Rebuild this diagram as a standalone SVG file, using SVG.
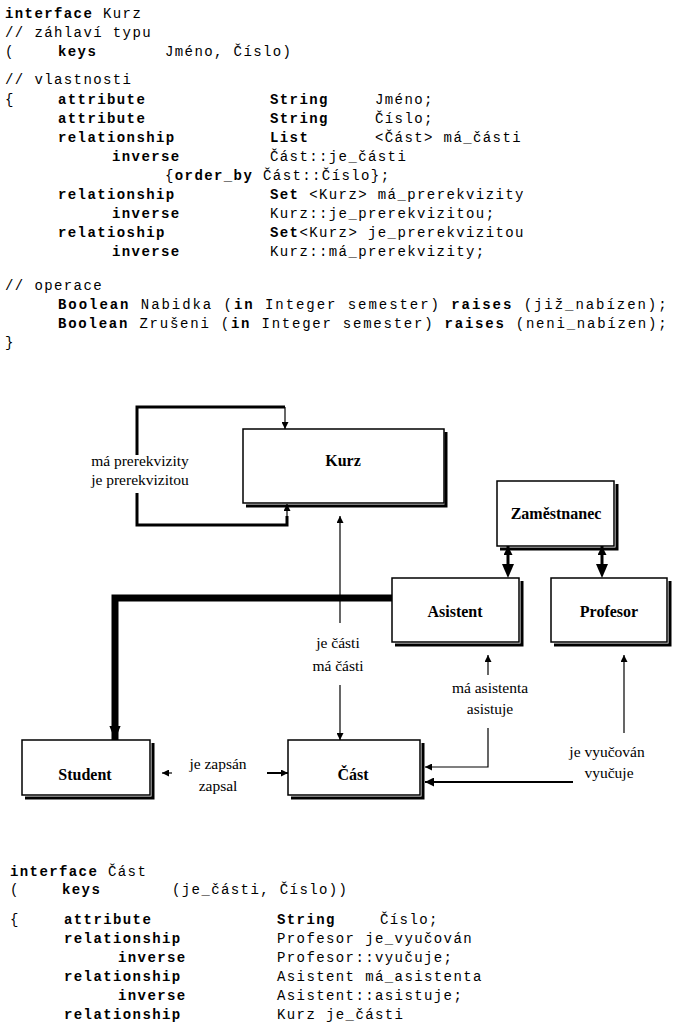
<svg xmlns="http://www.w3.org/2000/svg" width="673" height="1029" viewBox="0 0 673 1029">
<style>
.c{font-family:"Liberation Mono",monospace;font-size:14px;letter-spacing:1.4px;fill:#000}
.b{font-weight:bold}
.n{font-family:"Liberation Serif",serif;font-size:16px;font-weight:bold;text-anchor:middle}
.l{font-family:"Liberation Serif",serif;font-size:15.5px;text-anchor:middle}
.box{fill:#fff;stroke:#000;stroke-width:1.5}
.sh{fill:none;stroke:#000;stroke-width:3}
.ln{fill:none;stroke:#000;stroke-width:1.2}
</style>
<defs>
<marker id="a" viewBox="0 0 10 10" refX="10" refY="5" markerWidth="7" markerHeight="7" orient="auto" markerUnits="userSpaceOnUse"><path d="M0,0L10,5L0,10z"/></marker>
<marker id="at" viewBox="0 0 10 10" refX="10" refY="5" markerWidth="9" markerHeight="9" orient="auto" markerUnits="userSpaceOnUse"><path d="M0,0L10,5L0,10z"/></marker>
<marker id="ab" viewBox="0 0 10 10" refX="10" refY="5" markerWidth="14" markerHeight="14" orient="auto" markerUnits="userSpaceOnUse"><path d="M0,1L10,5L0,9z"/></marker>
</defs>
<g id="code1">
<text class="c" x="5" y="18"><tspan class="b">interface</tspan>  Kurz</text>
<text class="c" x="5" y="37">// záhlaví typu</text>
<text class="c" x="5" y="56">(</text><text class="c b" x="58" y="56">keys</text><text class="c" x="165" y="56">Jméno, Číslo)</text>
<text class="c" x="5" y="84">// vlastnosti</text>
<text class="c" x="5" y="104">{</text><text class="c b" x="58" y="104">attribute</text><text class="c b" x="270" y="104">String</text><text class="c" x="375" y="104">Jméno;</text>
<text class="c b" x="58" y="123">attribute</text><text class="c b" x="270" y="123">String</text><text class="c" x="375" y="123">Číslo;</text>
<text class="c b" x="58" y="142">relationship</text><text class="c b" x="270" y="142">List</text><text class="c" x="375" y="142">&lt;Část&gt;  má_části</text>
<text class="c b" x="112" y="161">inverse</text><text class="c" x="270" y="161">Část::je_části</text>
<text class="c" x="165" y="180">{<tspan class="b">order_by</tspan> Část::Číslo};</text>
<text class="c b" x="58" y="199">relationship</text><text class="c" x="270" y="199"><tspan class="b">Set</tspan> &lt;Kurz&gt; má_prerekvizity</text>
<text class="c b" x="112" y="218">inverse</text><text class="c" x="270" y="218">Kurz::je_prerekvizitou;</text>
<text class="c b" x="58" y="237">relatioship</text><text class="c" x="270" y="237"><tspan class="b">Set</tspan>&lt;Kurz&gt; je_prerekvizitou</text>
<text class="c b" x="112" y="256">inverse</text><text class="c" x="270" y="256">Kurz::má_prerekvizity;</text>
<text class="c" x="5" y="290">// operace</text>
<text class="c" x="58" y="309" textLength="610" lengthAdjust="spacing"><tspan class="b">Boolean</tspan> Nabidka (<tspan class="b">in</tspan> Integer semester) <tspan class="b">raises</tspan> (již_nabízen);</text>
<text class="c" x="58" y="328" textLength="610" lengthAdjust="spacing"><tspan class="b">Boolean</tspan> Zrušeni (<tspan class="b">in</tspan> Integer semester) <tspan class="b">raises</tspan> (neni_nabízen);</text>
<text class="c" x="5" y="347">}</text>
</g>
<g id="connectors">
<path class="sh" d="M137,455V407H285"/>
<path class="ln" d="M285,407V429" marker-end="url(#a)"/>
<path class="sh" d="M137,493V525H287V516"/>
<path class="ln" d="M287,518V504" marker-end="url(#a)"/>
<path class="ln" d="M340,623V516" marker-end="url(#a)"/>
<path class="ln" d="M340,685V740" marker-end="url(#a)"/>
<path d="M392,598H115V740" fill="none" stroke="#000" stroke-width="7" marker-end="url(#ab)"/>
<path class="sh" d="M508,564V546" marker-end="url(#at)"/>
<path d="M508,578L502,564H514z"/>
<path class="sh" d="M602,564V546" marker-end="url(#at)"/>
<path d="M602,578L596,564H608z"/>
<path class="ln" d="M488,675V655" marker-end="url(#a)"/>
<path class="ln" d="M488,728V767H425" marker-end="url(#a)"/>
<path class="ln" d="M624,733V655" marker-end="url(#a)"/>
<path d="M573,782H425" fill="none" stroke="#000" stroke-width="2" marker-end="url(#at)"/>
<path class="ln" d="M172,773H162" marker-end="url(#a)"/>
<path d="M267,773H288" fill="none" stroke="#000" stroke-width="2" marker-end="url(#a)"/>
<text class="l" x="140" y="466">má prerekvizity</text>
<text class="l" x="140" y="485">je prerekvizitou</text>
<text class="l" x="338" y="648">je části</text>
<text class="l" x="338" y="671">má části</text>
<text class="l" x="490" y="693">má asistenta</text>
<text class="l" x="490" y="714">asistuje</text>
<text class="l" x="607" y="757">je vyučován</text>
<text class="l" x="609" y="778">vyučuje</text>
<text class="l" x="218" y="769">je zapsán</text>
<text class="l" x="218" y="791">zapsal</text>
</g>
<g id="kurz"><path class="sh" d="M446,432V506H246"/><rect class="box" x="243" y="429" width="201" height="74"/><text class="n" x="343" y="466">Kurz</text></g>
<g id="zamestnanec"><path class="sh" d="M617,484V549H500"/><rect class="box" x="497" y="481" width="117" height="65"/><text class="n" x="556" y="519">Zaměstnanec</text></g>
<g id="asistent"><path class="sh" d="M522,581V645H395"/><rect class="box" x="392" y="578" width="127" height="64"/><text class="n" x="455" y="617">Asistent</text></g>
<g id="profesor"><path class="sh" d="M670,581V645H554"/><rect class="box" x="551" y="578" width="116" height="64"/><text class="n" x="609" y="617">Profesor</text></g>
<g id="student"><path class="sh" d="M153,743V798H25"/><rect class="box" x="22" y="740" width="128" height="55"/><text class="n" x="85" y="780">Student</text></g>
<g id="cast"><path class="sh" d="M423,743V798H291"/><rect class="box" x="288" y="740" width="132" height="55"/><text class="n" x="353" y="780">Část</text></g>
<g id="code2">
<text class="c" x="10" y="876"><tspan class="b">interface</tspan>  Část</text>
<text class="c" x="10" y="894">(</text><text class="c b" x="62" y="894">keys</text><text class="c" x="172" y="894">(je_části, Číslo))</text>
<text class="c" x="10" y="924">{</text><text class="c b" x="64" y="924">attribute</text><text class="c b" x="277" y="924">String</text><text class="c" x="380" y="924">Číslo;</text>
<text class="c b" x="64" y="943">relationship</text><text class="c" x="277" y="943">Profesor je_vyučován</text>
<text class="c b" x="118" y="962">inverse</text><text class="c" x="277" y="962">Profesor::vyučuje;</text>
<text class="c b" x="64" y="981">relationship</text><text class="c" x="277" y="981">Asistent má_asistenta</text>
<text class="c b" x="118" y="1000">inverse</text><text class="c" x="277" y="1000">Asistent::asistuje;</text>
<text class="c b" x="64" y="1019">relationship</text><text class="c" x="277" y="1019">Kurz je_části</text>
</g>
</svg>
